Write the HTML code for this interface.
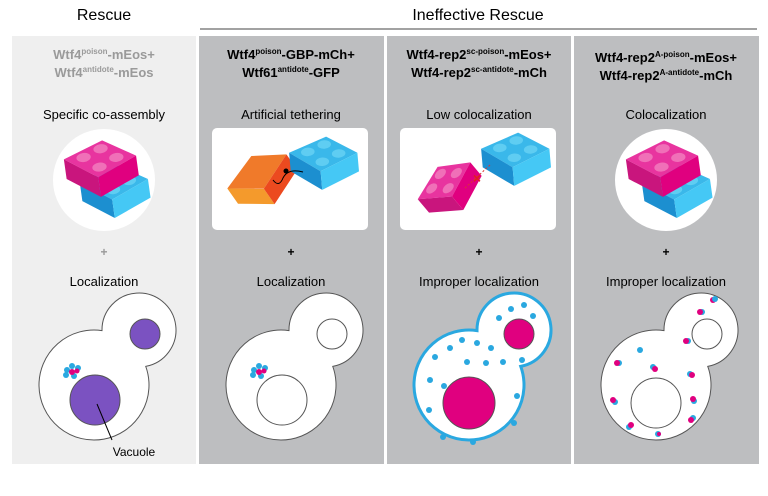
<!DOCTYPE html>
<html><head><style>
body{margin:0;background:#fff;}
svg{display:block;font-family:"Liberation Sans",Arial,sans-serif;}
</style></head><body>
<svg width="768" height="496" viewBox="0 0 768 496" xmlns="http://www.w3.org/2000/svg">
<defs>
<g id="pk">
<polygon points="0,15 45,0 80,22 35,40" fill="#e8349f"/>
<polygon points="0,15 35,40 35,62 0,37" fill="#c9157d"/>
<polygon points="35,40 80,22 80,44 35,62" fill="#e0007f"/>
<ellipse cx="22" cy="16" rx="8" ry="5" fill="#f070b8"/><ellipse cx="42" cy="9" rx="8" ry="5" fill="#f070b8"/>
<ellipse cx="38" cy="29" rx="8" ry="5" fill="#f070b8"/><ellipse cx="58" cy="21" rx="8" ry="5" fill="#f070b8"/>
</g>
<g id="bl">
<polygon points="0,15 45,0 80,22 35,40" fill="#3ab8ea"/>
<polygon points="0,15 35,40 35,62 0,37" fill="#1c8fd0"/>
<polygon points="35,40 80,22 80,44 35,62" fill="#45c8f5"/>
<ellipse cx="22" cy="16" rx="8" ry="5" fill="#5fcdf2"/><ellipse cx="42" cy="9" rx="8" ry="5" fill="#5fcdf2"/>
<ellipse cx="38" cy="29" rx="8" ry="5" fill="#5fcdf2"/><ellipse cx="58" cy="21" rx="8" ry="5" fill="#5fcdf2"/>
</g>
<g id="or">
<polygon points="0,15 45,0 80,22 35,40" fill="#f07a2a"/>
<polygon points="0,15 35,40 35,62 0,37" fill="#f49a2c"/>
<polygon points="35,40 80,22 80,44 35,62" fill="#ec4a1f"/>
</g>
<path id="cp" d="M-2,330.6 A37,37 0 1 1 41.74,366.36 A55,55 0 1 1 -2,330.6 Z"/>
</defs>
<!-- headers -->
<text x="104" y="20" font-size="16" text-anchor="middle">Rescue</text>
<text x="478" y="20" font-size="16" text-anchor="middle">Ineffective Rescue</text>
<line x1="200" y1="29" x2="757" y2="29" stroke="#444" stroke-width="1"/>
<!-- panels -->
<rect x="12" y="36" width="184" height="428" fill="#efefef"/>
<rect x="199" y="36" width="185" height="428" fill="#bdbec0"/>
<rect x="387" y="36" width="184" height="428" fill="#bdbec0"/>
<rect x="574" y="36" width="185" height="428" fill="#bdbec0"/>
<!-- titles -->
<g font-size="13" font-weight="bold" text-anchor="middle">
<text x="104" y="59" fill="#9a9a9a">Wtf4<tspan font-size="8" dy="-5">poison</tspan><tspan dy="5">-mEos+</tspan></text>
<text x="104" y="77" fill="#9a9a9a">Wtf4<tspan font-size="8" dy="-5">antidote</tspan><tspan dy="5">-mEos</tspan></text>
<text x="291" y="59">Wtf4<tspan font-size="8" dy="-5">poison</tspan><tspan dy="5">-GBP-mCh+</tspan></text>
<text x="291" y="77">Wtf61<tspan font-size="8" dy="-5">antidote</tspan><tspan dy="5">-GFP</tspan></text>
<text x="479" y="59">Wtf4-rep2<tspan font-size="8" dy="-5">sc-poison</tspan><tspan dy="5">-mEos+</tspan></text>
<text x="479" y="77">Wtf4-rep2<tspan font-size="8" dy="-5">sc-antidote</tspan><tspan dy="5">-mCh</tspan></text>
<text x="666" y="62">Wtf4-rep2<tspan font-size="8" dy="-5">A-poison</tspan><tspan dy="5">-mEos+</tspan></text>
<text x="666" y="80">Wtf4-rep2<tspan font-size="8" dy="-5">A-antidote</tspan><tspan dy="5">-mCh</tspan></text>
</g>
<g font-size="13" text-anchor="middle">
<text x="104" y="119">Specific co-assembly</text>
<text x="291" y="119">Artificial tethering</text>
<text x="479" y="119">Low colocalization</text>
<text x="666" y="119">Colocalization</text>
<text x="104" y="286">Localization</text>
<text x="291" y="286">Localization</text>
<text x="479" y="286">Improper localization</text>
<text x="666" y="286">Improper localization</text>
</g>
<g font-size="12" font-weight="bold" text-anchor="middle">
<text x="104" y="256" fill="#999">+</text><text x="291" y="256">+</text><text x="479" y="256">+</text><text x="666" y="256">+</text>
</g>
<!-- images -->
<circle cx="104" cy="180" r="51" fill="#fff"/>
<use href="#bl" transform="translate(78,170) rotate(-8) scale(0.85)"/><use href="#pk" transform="translate(62,146) rotate(-8) scale(0.9)"/>
<circle cx="666" cy="180" r="51" fill="#fff"/>
<use href="#bl" transform="translate(640,170) rotate(-8) scale(0.85)"/><use href="#pk" transform="translate(624,146) rotate(-8) scale(0.9)"/>
<rect x="212" y="128" width="156" height="102" rx="5" fill="#fff"/>
<use href="#or" transform="translate(220,178) rotate(-35) scale(0.85)"/>
<use href="#bl" transform="translate(288,140) rotate(-5) scale(0.85)"/>
<path d="M273,180 q6,8 10,-2 q5,-10 20,-6" fill="none" stroke="#000"/><circle cx="286" cy="171" r="2.5"/>
<rect x="400" y="128" width="156" height="102" rx="5" fill="#fff"/>
<use href="#bl" transform="translate(480,136) rotate(-5) scale(0.85)"/>
<use href="#pk" transform="translate(410,190) rotate(-40) scale(0.8)"/>
<line x1="465" y1="188" x2="490" y2="165" stroke="#d33" stroke-dasharray="2,2"/>
<text x="477" y="183" fill="#e02020" font-size="14" font-weight="bold" text-anchor="middle">×</text>
<!-- cells -->
<use href="#cp" x="104" fill="#fff" stroke="#555"/>
<circle cx="145" cy="334" r="15" fill="#7b52c1" stroke="#555"/>
<circle cx="95" cy="400" r="25" fill="#7b52c1" stroke="#555"/>
<line x1="97" y1="404" x2="112" y2="440" stroke="#000"/>
<text x="134" y="456" font-size="12" text-anchor="middle">Vacuole</text>
<g fill="#2aa8e0"><circle cx="67" cy="370" r="3"/><circle cx="72" cy="366" r="3"/><circle cx="78" cy="368" r="3"/><circle cx="66" cy="375" r="3"/><circle cx="74" cy="376" r="3"/></g>
<g fill="#e0007f"><circle cx="72" cy="372" r="3"/><circle cx="77" cy="371" r="2.5"/></g>

<use href="#cp" x="291" fill="#fff" stroke="#555"/>
<circle cx="332" cy="334" r="15" fill="#fff" stroke="#555"/>
<circle cx="282" cy="400" r="25" fill="#fff" stroke="#555"/>
<g fill="#2aa8e0"><circle cx="254" cy="370" r="3"/><circle cx="259" cy="366" r="3"/><circle cx="265" cy="368" r="3"/><circle cx="253" cy="375" r="3"/><circle cx="261" cy="376" r="3"/></g>
<g fill="#e0007f"><circle cx="259" cy="372" r="3"/><circle cx="264" cy="371" r="2.5"/></g>

<use href="#cp" x="479" fill="#fff" stroke="#2aa8e0" stroke-width="3"/>
<circle cx="519" cy="334" r="15" fill="#e0007f" stroke="#555"/>
<circle cx="469" cy="403" r="26" fill="#e0007f" stroke="#555"/>
<g fill="#2aa8e0">
<circle cx="511" cy="309" r="3"/><circle cx="499" cy="318" r="3"/><circle cx="524" cy="305" r="3"/><circle cx="533" cy="316" r="3"/>
<circle cx="462" cy="340" r="3"/><circle cx="477" cy="343" r="3"/><circle cx="491" cy="348" r="3"/><circle cx="450" cy="348" r="3"/>
<circle cx="435" cy="357" r="3"/><circle cx="467" cy="362" r="3"/><circle cx="486" cy="363" r="3"/><circle cx="503" cy="362" r="3"/><circle cx="522" cy="360" r="3"/>
<circle cx="430" cy="380" r="3"/><circle cx="444" cy="386" r="3"/><circle cx="517" cy="396" r="3"/><circle cx="429" cy="410" r="3"/>
<circle cx="514" cy="423" r="3"/><circle cx="443" cy="437" r="3"/><circle cx="473" cy="442" r="3"/>
</g>

<use href="#cp" x="666" fill="#fff" stroke="#555"/>
<circle cx="707" cy="334" r="15" fill="#fff" stroke="#555"/>
<circle cx="656" cy="403" r="25" fill="#fff" stroke="#555"/>
<g>
<g transform="translate(700,312)"><circle r="3" fill="#2aa8e0" cx="2"/><circle r="3" fill="#e0007f"/></g>
<g transform="translate(713,300)"><circle r="3" fill="#e0007f"/><circle r="3" fill="#2aa8e0" cx="2" cy="-1"/></g>
<g transform="translate(686,341)"><circle r="3" fill="#2aa8e0" cx="2"/><circle r="3" fill="#e0007f"/></g>
<g transform="translate(640,350)"><circle r="3" fill="#2aa8e0"/></g>
<g transform="translate(617,363)"><circle r="3" fill="#2aa8e0" cx="2"/><circle r="3" fill="#e0007f"/></g>
<g transform="translate(653,367)"><circle r="3" fill="#2aa8e0"/><circle r="3" fill="#e0007f" cx="2" cy="2"/></g>
<g transform="translate(690,374)"><circle r="3" fill="#2aa8e0"/><circle r="3" fill="#e0007f" cx="2" cy="1"/></g>
<g transform="translate(693,399)"><circle r="3" fill="#2aa8e0" cx="1" cy="2"/><circle r="3" fill="#e0007f"/></g>
<g transform="translate(613,400)"><circle r="3" fill="#2aa8e0" cx="2" cy="2"/><circle r="3" fill="#e0007f"/></g>
<g transform="translate(691,418)"><circle r="3" fill="#2aa8e0" cx="2"/><circle r="3" fill="#e0007f" cy="2"/></g>
<g transform="translate(629,427)"><circle r="3" fill="#2aa8e0"/><circle r="3" fill="#e0007f" cx="2" cy="-2"/></g>
<g transform="translate(658,434)"><circle r="3" fill="#2aa8e0"/><circle r="2" fill="#e0007f" cx="1"/></g>
</g>
</svg>
</body></html>
